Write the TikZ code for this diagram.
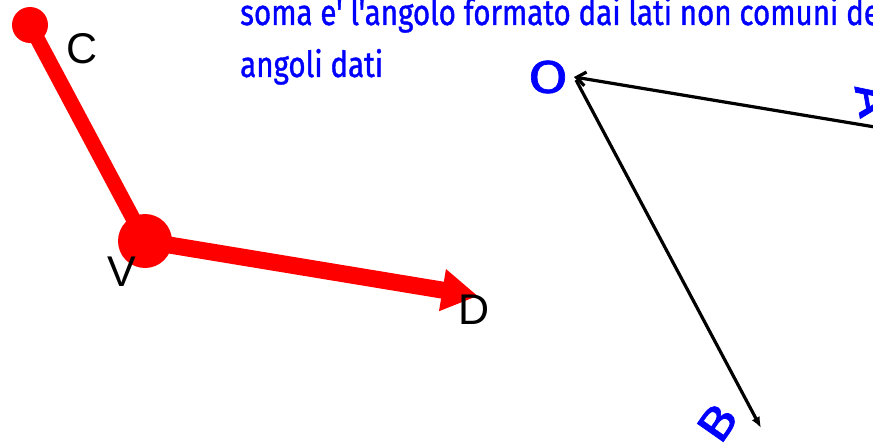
\documentclass[tikz,border=0pt]{standalone}
\usepackage{fontspec}
\setmainfont{Liberation Sans}
\newfontfamily\scrittura[FakeStretch=0.82, FakeBold=1]{Fira Sans}
\newfontfamily\lettere[FakeStretch=1.25, FakeBold=1.5]{Fira Sans}
\usetikzlibrary{arrows.meta}
\tikzset{
  lato rosso/.style={red, line width=15pt},
  lato nero/.style={black, line width=3.2pt},
  etichetta/.style={font=\fontsize{43}{43}\selectfont, inner sep=0pt},
  lettera blu/.style={blue, font=\lettere\fontsize{46}{46}\selectfont, inner sep=0pt},
  testo blu/.style={blue, font=\scrittura\fontsize{36}{40}\selectfont, inner sep=0pt, anchor=base west}
}
\begin{document}
\begin{tikzpicture}[x=1pt, y=-1pt]
    % 1. Area visibile
    \useasboundingbox (0,0) rectangle (873,444);
    \clip (0,0) rectangle (873,444);

    % 2. Testo in blu
    \node[testo blu] (riga1) at (240,25) {soma e' l'angolo formato dai lati non comuni de};
    \node[testo blu] (riga2) at (240,77) {angoli dati};

    % 3. Angolo rosso CVD
    \coordinate (C) at (30,25);
    \coordinate (V) at (145,241);
    \coordinate (D) at (478,296);
    \draw[lato rosso] (C) -- (V);
    \draw[lato rosso, line width=17pt, -{Triangle[length=36pt, width=40pt]}] (V) -- (D);
    \fill[red] (C) circle (18pt);
    \fill[red] (V) circle (27pt);
    \node[etichetta] (labC) at (82,49) {C};
    \node[etichetta] (labV) at (122,272) {V};
    \node[etichetta] (labD) at (474,310) {D};

    % 4. Angolo nero AOB
    \coordinate (O) at (574,77);
    \coordinate (A) at (905,132);
    \coordinate (B) at (761,428);
    \draw[lato nero, {Straight Barb[length=9pt, width=14pt]}-] (O) -- (A);
    \draw[lato nero, -{Latex[length=11pt, width=9pt]}] (O) ++(2,3) coordinate (O2) (O2) -- (B);

    % 5. Lettere blu
    \node[lettera blu] (labO) at (548,77) {O};
    \node[lettera blu, rotate=55] (labB) at (717,423) {B};
    \node[lettera blu, rotate=-80] (labA) at (873,100) {A};
\end{tikzpicture}
\end{document}
